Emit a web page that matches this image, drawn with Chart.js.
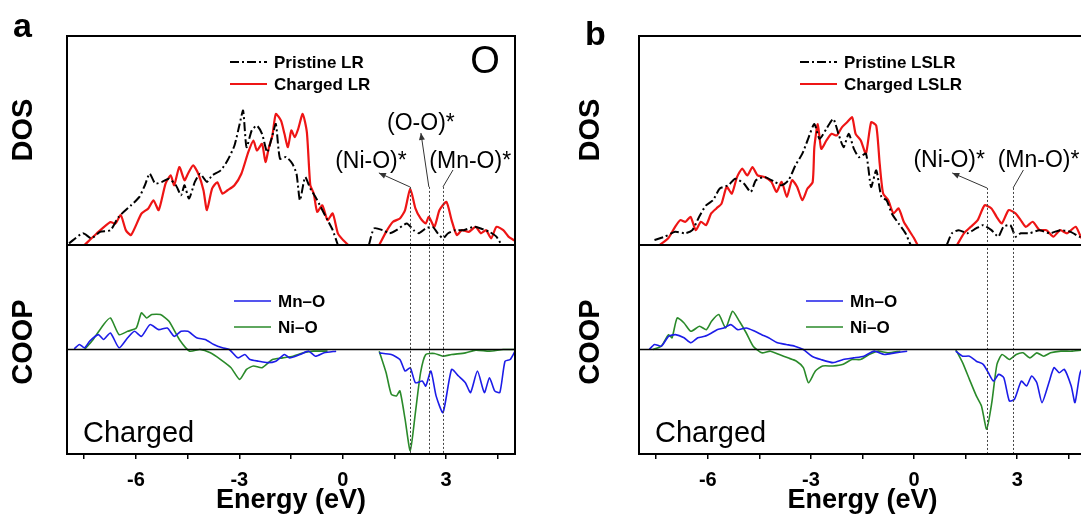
<!DOCTYPE html>
<html>
<head>
<meta charset="utf-8">
<script src="https://cdn.jsdelivr.net/npm/chart.js@4.4.0/dist/chart.umd.min.js"></script>
<style>
  html, body { margin: 0; padding: 0; background: #fff; overflow: hidden; width: 1081px; height: 520px; }
  canvas { position: absolute; top: 0; }
  #panelA { left: 0; }
  #panelB { left: 540px; }
</style>
</head>
<body>
<canvas id="panelA" width="540" height="520"></canvas>
<canvas id="panelB" width="560" height="520"></canvas>
<script>
// x axis
const xTicks = [-7.5, -6, -4.5, -3, -1.5, 0, 1.5, 3, 4.5];
const xTickLabels = ['', '-6', '', '-3', '', '0', '', '3', ''];

// ---- panel a : LR, O DOS ----
const eA_pristine = [-7.94,-7.54,-7.29,-7.04,-6.74,-6.5,-6.14,-5.9,-5.74,-5.6,-5.44,-5.24,-5.04,-4.84,-4.69,-4.59,-4.46,-4.29,-4.14,-3.94,-3.79,-3.54,-3.34,-3.14,-2.99,-2.89,-2.79,-2.64,-2.49,-2.34,-2.19,-2.04,-1.94,-1.82,-1.64,-1.46,-1.34,-1.24,-1.09,-0.94,-0.79,-0.64,-0.44,-0.29,-0.14,
  0.3, 0.76,0.91,1.16,1.36,1.56,1.86,2.06,2.21,2.41,2.61,2.76,2.91,3.06,3.26,3.51,3.81,4.01,4.26,4.46,4.61];
const dosA_pristine = [0.08,0.56,0.32,0.63,0.71,1.35,1.9,2.3,2.86,3.41,2.94,3.02,3.17,2.86,2.38,2.86,2.22,3.02,3.41,3.02,3.33,3.57,4.05,4.76,5.79,6.43,4.68,5.48,5.71,5.32,4.44,5.24,5.79,4.13,4.21,3.89,3.41,2.14,3.25,2.7,2.3,1.83,1.19,0.71,0,
  null, 0,0.79,0.71,0.56,0.71,1.03,0.71,0.56,0.79,0.87,0.56,0.32,0.56,0.71,0.71,0.87,0.79,0.63,0.4,0];

const eA_charged = [-7.49,-7.14,-6.74,-6.6,-6.44,-6.29,-6.14,-5.84,-5.64,-5.49,-5.34,-5.14,-4.99,-4.89,-4.74,-4.59,-4.49,-4.34,-4.19,-4.04,-3.94,-3.79,-3.64,-3.49,-3.34,-3.14,-2.94,-2.74,-2.59,-2.49,-2.34,-2.24,-2.14,-2.04,-1.94,-1.79,-1.69,-1.59,-1.49,-1.39,-1.29,-1.16,-1.04,-0.94,-0.84,-0.74,-0.59,-0.44,-0.29,-0.14,0.01,0.16,
  0.6, 1.06,1.26,1.46,1.66,1.81,1.96,2.11,2.26,2.41,2.5,2.66,2.81,3.01,3.16,3.31,3.46,3.66,3.86,4.01,4.16,4.31,4.46,4.66,4.81,4.96,5.0];
const dosA_charged = [0,0.55,1.1,1.02,1.43,0.7,0.48,1.5,1.75,2.14,1.67,2.94,3.33,2.86,3.73,3.1,3.41,3.81,3.41,2.62,1.67,2.7,3.0,2.46,2.62,2.86,3.41,4.44,5.0,4.52,4.84,3.97,4.68,5.24,6.27,5.95,5.32,4.68,5.48,5.16,5.56,6.27,5.4,2.86,2.46,1.59,1.9,1.19,1.51,0.56,0.24,0,
  null, 0,0.63,1.11,1.27,1.67,2.7,1.75,1.27,1.03,1.35,0.87,1.67,2.06,1.19,0.48,0.71,0.63,0.87,0.56,0.71,0.32,0.87,0.71,0.4,0.24,0.2];

// ---- panel a : COOP ----
const eA_mno = [-7.79,-7.64,-7.49,-7.34,-7.09,-6.94,-6.74,-6.49,-6.24,-6.04,-5.84,-5.59,-5.34,-5.09,-4.89,-4.69,-4.49,-4.24,-3.99,-3.74,-3.49,-3.29,-3.04,-2.84,-2.69,-2.44,-2.19,-1.94,-1.69,-1.54,-1.24,-0.99,-0.79,-0.54,-0.19,
  0.4, 1.06,1.41,1.66,1.81,1.96,2.11,2.31,2.41,2.56,2.71,2.91,3.16,3.36,3.56,3.71,3.91,4.11,4.26,4.41,4.56,4.71,4.86,5.0];
const coopA_mno = [0.03,0.24,0.08,0.4,0.71,0.48,0.79,0.08,0.56,0.87,0.63,1.19,0.95,1.03,0.63,0.87,0.87,0.56,0.48,0.24,0.08,0,-0.4,-0.24,-0.48,-0.56,-0.63,-0.56,-0.24,-0.4,-0.24,-0.08,-0.32,-0.16,-0.08,
  null, -0.16,-0.24,-0.48,-1.03,-0.87,-1.59,-1.51,-1.75,-1.03,-2.22,-3.02,-0.95,-1.27,-1.59,-2.06,-1.03,-2.06,-1.35,-1.98,-2.06,-0.56,-0.48,-0.08];

const eA_nio = [-7.49,-7.24,-6.94,-6.74,-6.49,-6.24,-5.99,-5.84,-5.69,-5.54,-5.29,-5.04,-4.74,-4.44,-4.14,-3.84,-3.54,-3.24,-2.99,-2.79,-2.59,-2.34,-2.04,-1.74,-1.44,-1.14,-0.84,-0.44,
  0.3, 1.06,1.26,1.41,1.56,1.66,1.81,1.96,2.11,2.26,2.41,2.66,2.91,3.16,3.56,3.86,4.26,4.66,5.0];
const coopA_nio = [0,0.48,1.19,1.51,0.71,0.87,1.03,1.75,1.51,1.67,1.67,1.35,0.48,-0.08,0,-0.16,-0.48,-0.87,-1.43,-0.95,-0.79,-0.87,-0.48,-0.4,-0.32,-0.16,-0.08,-0.08,
  null, -0.08,-1.11,-2.14,-2.22,-1.98,-3.33,-4.84,-3.02,-1.11,-0.24,-0.19,-0.32,-0.24,-0.16,-0.03,-0.08,0,0];

// ---- panel b : LSLR, DOS ----
const eB_pristine = [-7.55,-7.25,-6.95,-6.65,-6.45,-6.25,-6.05,-5.85,-5.65,-5.4,-5.2,-4.95,-4.75,-4.6,-4.35,-4.05,-3.85,-3.65,-3.45,-3.25,-3.1,-2.9,-2.75,-2.55,-2.35,-2.2,-2.05,-1.9,-1.75,-1.6,-1.4,-1.25,-1.1,-0.95,-0.8,-0.65,-0.45,-0.25,-0.1,
  0.4, 0.95,1.1,1.3,1.55,1.8,2.0,2.25,2.45,2.6,2.8,2.95,3.1,3.35,3.65,3.95,4.25,4.55,4.8,5.0];
const dosB_pristine = [0.24,0.4,0.63,0.56,0.71,1.35,1.9,2.14,2.7,2.86,3.17,2.94,2.54,3.1,3.25,3.02,2.86,3.1,3.81,4.37,5.0,5.79,5.08,5.56,6.03,5.32,4.68,5.32,4.6,4.2,4.37,2.78,3.57,2.3,2.14,1.51,1.03,0.56,0,
  null, 0,0.56,0.71,0.56,0.79,0.95,0.71,0.4,0.87,0.95,0.4,0.56,0.56,0.71,0.56,0.71,0.63,0.4,0.3];

const eB_charged = [-7.4,-7.15,-6.95,-6.8,-6.65,-6.5,-6.35,-6.2,-6.05,-5.9,-5.75,-5.6,-5.45,-5.3,-5.15,-5.0,-4.85,-4.7,-4.55,-4.35,-4.15,-4.0,-3.85,-3.7,-3.55,-3.4,-3.25,-3.1,-2.95,-2.9,-2.8,-2.7,-2.55,-2.4,-2.25,-2.1,-1.95,-1.8,-1.7,-1.55,-1.4,-1.25,-1.1,-1.0,-0.9,-0.75,-0.6,-0.45,-0.3,-0.15,0,0.1,
  0.6, 1.25,1.45,1.65,1.85,2.05,2.25,2.4,2.55,2.75,2.95,3.1,3.25,3.45,3.65,3.85,4.05,4.25,4.45,4.7,4.87,5.0];
const dosB_charged = [0,0.32,0.87,1.19,1.11,1.35,0.71,1.11,0.95,1.51,1.75,1.98,2.78,2.46,3.25,3.65,3.33,3.73,3.33,3.25,3.02,2.54,3.02,2.3,3.1,2.78,2.14,2.7,3.0,4.68,5.79,4.6,5.0,5.32,5.24,5.63,5.87,6.11,5.32,5.0,4.37,5.87,5.71,3.89,2.46,2.14,1.51,1.75,1.11,0.71,0.32,0,
  null, 0,0.56,0.87,1.19,1.9,1.75,1.35,1.03,1.67,1.51,1.19,0.87,1.11,0.71,0.71,0.4,0.71,0.56,0.87,0.33,0.2];

// ---- panel b : COOP ----
const eB_mno = [-7.7,-7.55,-7.35,-7.14,-6.94,-6.69,-6.49,-6.29,-6.09,-5.89,-5.73,-5.53,-5.33,-5.13,-4.88,-4.63,-4.43,-4.23,-3.97,-3.72,-3.47,-3.22,-2.97,-2.71,-2.36,-2.06,-1.76,-1.46,-1.16,-0.86,-0.56,-0.2,
  0.5, 1.21,1.41,1.61,1.81,2.01,2.16,2.31,2.46,2.61,2.77,2.92,3.12,3.27,3.42,3.57,3.72,3.92,4.07,4.22,4.37,4.57,4.68,4.83,5.0];
const coopB_mno = [0,0.24,0.16,0.63,0.71,0.56,0.32,0.56,0.63,0.79,0.95,1.03,1.19,0.95,1.03,0.87,0.71,0.56,0.32,0.24,0.16,0,-0.32,-0.48,-0.63,-0.48,-0.4,-0.32,-0.08,-0.24,-0.16,-0.08,
  null, -0.08,-0.32,-0.32,-0.56,-0.71,-1.11,-1.51,-1.19,-1.35,-2.46,-2.38,-1.51,-1.75,-1.27,-1.59,-2.54,-1.59,-0.87,-1.11,-0.95,-1.75,-2.54,-1.11,-0.6];

const eB_nio = [-7.6,-7.35,-7.14,-7.04,-6.89,-6.69,-6.49,-6.24,-6.04,-5.89,-5.68,-5.48,-5.28,-5.08,-4.88,-4.68,-4.43,-4.18,-3.92,-3.67,-3.42,-3.22,-3.07,-2.87,-2.66,-2.36,-2.06,-1.81,-1.56,-1.31,-1.06,-0.76,-0.4,
  0.4, 1.21,1.41,1.61,1.81,1.96,2.11,2.26,2.41,2.56,2.77,2.97,3.17,3.37,3.57,3.77,3.97,4.27,4.6,5.0];
const coopB_nio = [0,0.16,0.71,0.56,1.51,1.27,0.87,1.11,0.95,1.35,1.67,1.03,1.83,1.35,0.79,0.16,-0.16,-0.08,-0.24,-0.4,-0.56,-0.87,-1.59,-1.03,-0.79,-0.79,-0.71,-0.48,-0.48,-0.24,-0.08,-0.16,-0.08,
  null, 0,-0.63,-1.43,-2.22,-2.7,-3.81,-2.54,-0.71,-0.24,-0.48,-0.24,-0.16,-0.4,-0.16,-0.32,-0.16,-0.08,-0.08,0];

// annotated energies (eV)
const marksA = [1.95, 2.5, 2.91];
const marksB = [2.12, 2.88];

const FONT = '"Liberation Sans", Arial, sans-serif';
const RED = '#ee1515', BLUE = '#1c1ce8', GREEN = '#2a8a2a';

const pts = (xs, ys) => xs.map((x, i) => ({x: x, y: ys[i]}));

// draws frame, labels, in-plot legends and the annotation arrows
const decor = {
  id: 'decor',
  afterDatasetsDraw(chart, args, o) {
    const {ctx, chartArea: ca} = chart;
    const x = chart.scales.x, yd = chart.scales.yDos, yc = chart.scales.yCoop;
    const line = (x0, y0, x1, y1) => { ctx.beginPath(); ctx.moveTo(x0, y0); ctx.lineTo(x1, y1); ctx.stroke(); };
    ctx.save();

    // dotted markers
    ctx.strokeStyle = '#444'; ctx.lineWidth = 1; ctx.setLineDash([2, 2]);
    o.marks.forEach(m => {
      const px = Math.round(x.getPixelForValue(m)) + 0.5;
      line(px, yd.getPixelForValue(o.markTop), px, ca.bottom);
    });
    ctx.setLineDash([]);

    // arrows and labels
    ctx.strokeStyle = '#333'; ctx.fillStyle = '#333'; ctx.lineWidth = 1;
    o.notes.forEach(n => {
      const x0 = x.getPixelForValue(n.from), y0 = yd.getPixelForValue(o.markTop);
      const x1 = x.getPixelForValue(n.to[0]), y1 = yd.getPixelForValue(n.to[1]);
      line(x0, y0, x1, y1);
      if (n.head) {
        const a = Math.atan2(y1 - y0, x1 - x0);
        ctx.beginPath();
        ctx.moveTo(x1, y1);
        ctx.lineTo(x1 - 7 * Math.cos(a) + 3 * Math.sin(a), y1 - 7 * Math.sin(a) - 3 * Math.cos(a));
        ctx.lineTo(x1 - 7 * Math.cos(a) - 3 * Math.sin(a), y1 - 7 * Math.sin(a) + 3 * Math.cos(a));
        ctx.closePath(); ctx.fill();
      }
      ctx.fillStyle = '#000';
      ctx.font = '23px ' + FONT; ctx.textAlign = 'center'; ctx.textBaseline = 'alphabetic';
      ctx.fillText(n.text, x.getPixelForValue(n.at[0]), yd.getPixelForValue(n.at[1]));
      ctx.fillStyle = '#333';
    });

    // frame, divider, zero line of COOP
    ctx.strokeStyle = '#000'; ctx.lineWidth = 2;
    ctx.strokeRect(ca.left, ca.top, ca.width, ca.height);
    line(ca.left, yd.bottom, ca.right, yd.bottom);
    ctx.lineWidth = 1.5;
    const z = yc.getPixelForValue(0);
    line(ca.left, z, ca.right, z);

    // in-plot legends
    const ds = chart.data.datasets;
    const legend = (d, lx, ly) => {
      ctx.strokeStyle = d.borderColor; ctx.lineWidth = d.borderWidth;
      ctx.setLineDash(d.borderDash || []);
      line(ca.left + lx, ly, ca.left + lx + 37, ly);
      ctx.setLineDash([]);
      ctx.fillStyle = '#000'; ctx.font = 'bold 17px ' + FONT;
      ctx.textAlign = 'left'; ctx.textBaseline = 'middle';
      ctx.fillText(d.label, ca.left + lx + 44, ly + 1);
    };
    legend(ds[0], o.dosLegendX, ca.top + 26);
    legend(ds[1], o.dosLegendX, ca.top + 48);
    legend(ds[2], 167, yc.top + 56);
    legend(ds[3], 167, yc.top + 82);

    // texts
    ctx.fillStyle = '#000'; ctx.textBaseline = 'alphabetic'; ctx.textAlign = 'left';
    ctx.font = '29px ' + FONT;
    ctx.fillText('Charged', ca.left + 16, ca.bottom - 12);
    if (o.element) {
      ctx.font = '38px ' + FONT; ctx.textAlign = 'center'; ctx.textBaseline = 'middle';
      ctx.fillText(o.element, ca.right - 30, ca.top + 27);
    }
    ctx.font = 'bold 34px ' + FONT; ctx.textAlign = 'left'; ctx.textBaseline = 'alphabetic';
    ctx.fillText(o.letter, ca.left - 54, o.letterY);

    ctx.font = 'bold 29px ' + FONT; ctx.textAlign = 'center'; ctx.textBaseline = 'middle';
    [['DOS', 130], ['COOP', 342]].forEach(([t, cy]) => {
      ctx.save();
      ctx.translate(ca.left - o.titleGap, cy);
      ctx.rotate(-Math.PI / 2);
      ctx.fillText(t, 0, 0);
      ctx.restore();
    });
    ctx.restore();
  }
};

function makePanel(id, p) {
  return new Chart(document.getElementById(id), {
    type: 'line',
    data: {
      datasets: [
        {label: p.names[0], data: pts(p.dosE[0], p.dosV[0]), yAxisID: 'yDos', borderColor: '#000', borderWidth: 2, borderDash: [9, 3, 2, 3]},
        {label: p.names[1], data: pts(p.dosE[1], p.dosV[1]), yAxisID: 'yDos', borderColor: RED, borderWidth: 2.2},
        {label: 'Mn–O', data: pts(p.coopE[0], p.coopV[0]), yAxisID: 'yCoop', borderColor: BLUE, borderWidth: 1.6},
        {label: 'Ni–O', data: pts(p.coopE[1], p.coopV[1]), yAxisID: 'yCoop', borderColor: GREEN, borderWidth: 1.6}
      ]
    },
    options: {
      responsive: false,
      animation: false,
      devicePixelRatio: 1,
      layout: {padding: {left: p.padLeft, right: p.padRight, top: 36, bottom: 0}},
      elements: {point: {radius: 0}, line: {tension: 0.2, fill: false}},
      plugins: {legend: {display: false}, tooltip: {enabled: false}, decor: p.decor},
      scales: {
        x: {
          type: 'linear', position: 'bottom', min: -8, max: 5,
          afterFit: s => { s.height = 66; },
          afterBuildTicks: s => { s.ticks = xTicks.map(v => ({value: v})); },
          ticks: {
            autoSkip: false, maxRotation: 0, padding: 9, color: '#000',
            font: {family: FONT, size: 20, weight: 'bold'},
            callback: (v, i) => xTickLabels[i]
          },
          grid: {drawOnChartArea: false, drawTicks: true, tickLength: 5, color: '#000', lineWidth: 1.5},
          border: {display: false},
          title: {display: true, text: 'Energy (eV)', color: '#000', font: {family: FONT, size: 27, weight: 'bold'}, padding: {top: 0, bottom: 3}}
        },
        // stacked on the left: lower weight is placed lower in the stack
        yDos: {
          type: 'linear', position: 'left', stack: 'panel', stackWeight: 1, weight: 2,
          min: 0, max: 10,
          ticks: {display: false}, grid: {display: false}, border: {display: false},
          afterFit: s => { s.width = 0; }
        },
        yCoop: {
          type: 'linear', position: 'left', stack: 'panel', stackWeight: 1, weight: 1,
          min: -5, max: 5,
          ticks: {display: false}, grid: {display: false}, border: {display: false},
          afterFit: s => { s.width = 0; }
        }
      }
    },
    plugins: [decor]
  });
}

makePanel('panelA', {
  names: ['Pristine LR', 'Charged LR'],
  dosE: [eA_pristine, eA_charged], dosV: [dosA_pristine, dosA_charged],
  coopE: [eA_mno, eA_nio], coopV: [coopA_mno, coopA_nio],
  padLeft: 67, padRight: 25,
  decor: {
    letter: 'a', letterY: 37, element: 'O', titleGap: 43, dosLegendX: 163,
    marks: marksA, markTop: 2.78,
    notes: [
      {text: '(Ni-O)*', at: [0.82, 3.68], from: marksA[0], to: [1.05, 3.45], head: true},
      {text: '(O-O)*', at: [2.27, 5.5], from: marksA[1], to: [2.27, 5.36], head: true},
      {text: '(Mn-O)*', at: [3.7, 3.68], from: marksA[2], to: [3.2, 3.59], head: false}
    ]
  }
});

makePanel('panelB', {
  names: ['Pristine LSLR', 'Charged LSLR'],
  dosE: [eB_pristine, eB_charged], dosV: [dosB_pristine, dosB_charged],
  coopE: [eB_mno, eB_nio], coopV: [coopB_mno, coopB_nio],
  padLeft: 99, padRight: 14,
  decor: {
    letter: 'b', letterY: 45, element: null, titleGap: 48, dosLegendX: 161,
    marks: marksB, markTop: 2.73,
    notes: [
      {text: '(Ni-O)*', at: [1.02, 3.73], from: marksB[0], to: [1.11, 3.45], head: true},
      {text: '(Mn-O)*', at: [3.62, 3.73], from: marksB[1], to: [3.18, 3.59], head: false}
    ]
  }
});
</script>
</body>
</html>
